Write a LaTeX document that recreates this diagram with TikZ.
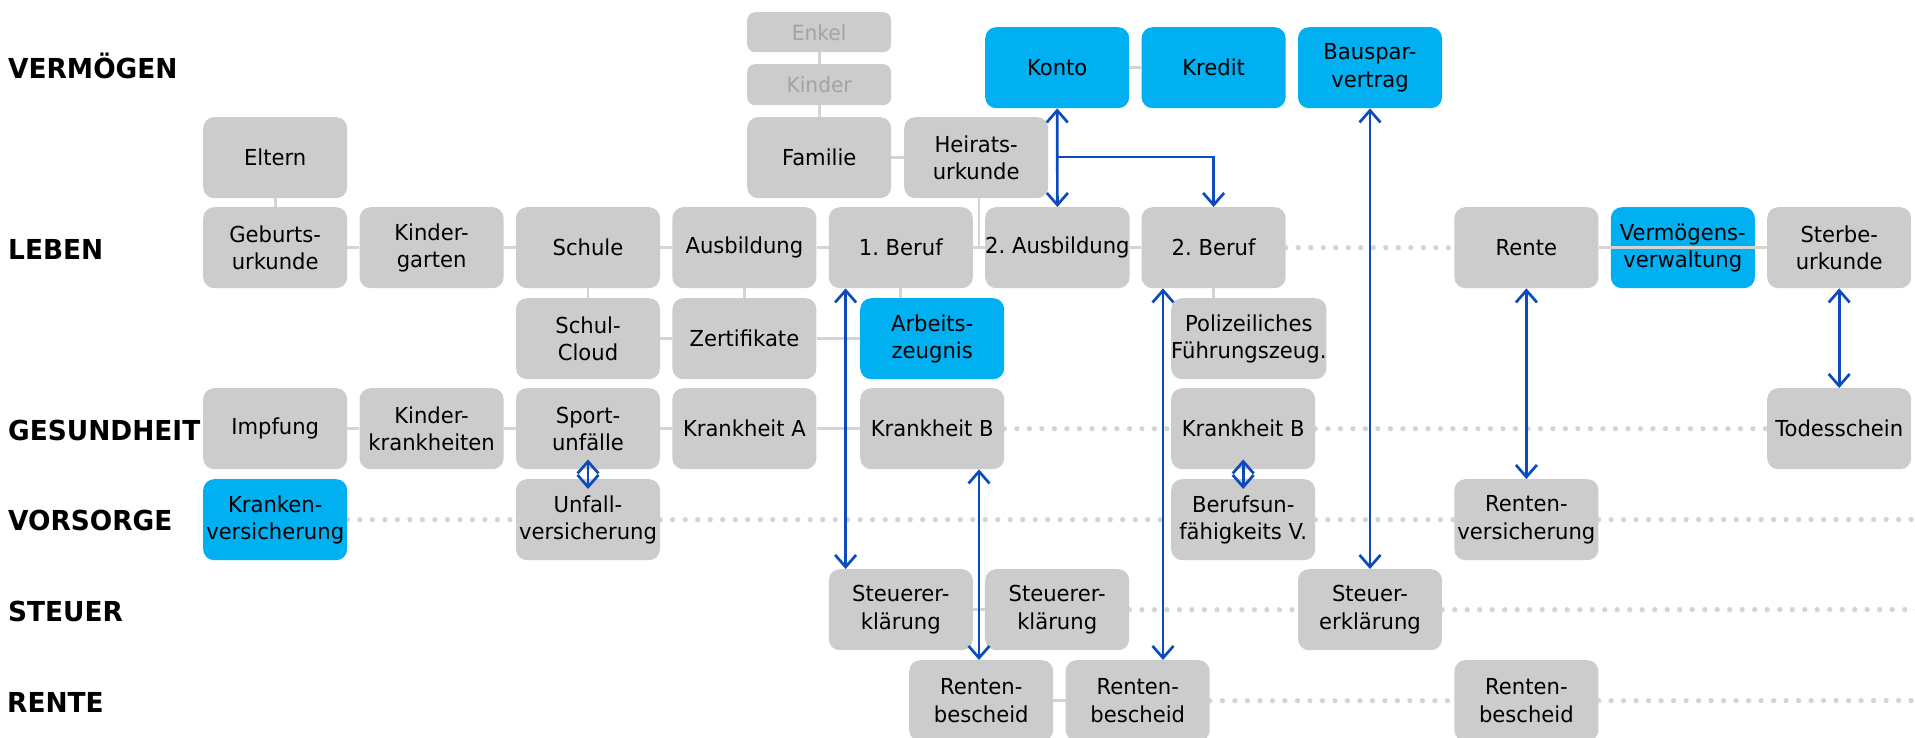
\documentclass[tikz,border=0pt]{standalone}
\usepackage{fontspec}
\setmainfont{DejaVu Sans}[FakeStretch=0.96]
\usetikzlibrary{arrows.meta}
\definecolor{boxgray}{HTML}{CCCCCC}
\definecolor{boxblue}{HTML}{00B0F0}
\definecolor{linegray}{HTML}{D4D4D4}
\definecolor{arrowblue}{HTML}{0B4BBE}
\definecolor{fadedtext}{HTML}{A3A3A3}
\pgfdeclarelayer{bg}
\pgfsetlayers{bg,main}
\frenchspacing
\begin{document}
\begin{tikzpicture}[x=1pt,y=-1pt,
 box/.style={fill=boxgray, rounded corners=11pt, minimum width=144pt, minimum height=81pt, inner sep=0pt, align=center, anchor=north west, font=\fontsize{22}{27.3}\selectfont},
 bluebox/.style={box, fill=boxblue},
 smallbox/.style={box, minimum height=40pt, rounded corners=8pt, text=fadedtext, font=\fontsize{21}{25}\selectfont},
 lane/.style={anchor=base west, inner sep=0pt, font=\fontsize{27.5}{31}\selectfont\bfseries},
 link/.style={draw=linegray, line width=2.7pt},
 dots/.style={draw=linegray, line width=5.3pt, line cap=round, dash pattern=on 0pt off 12.5pt},
 arr/.style={draw=arrowblue, line width=2.7pt, {Straight Barb[length=12pt,width=21pt]}-{Straight Barb[length=12pt,width=21pt]}},
 arrto/.style={draw=arrowblue, line width=2.7pt, -{Straight Barb[length=12pt,width=21pt]}},
]
\useasboundingbox (0,0) rectangle (1915,738);

% lane labels
\node[lane] (lv) at (8,78.5) {VERMÖGEN};
\node[lane] (ll) at (8,259) {LEBEN};
\node[lane] (lg) at (8,440) {GESUNDHEIT};
\node[lane] (lo) at (8,530) {VORSORGE};
\node[lane] (ls) at (8,621) {STEUER};
\node[lane] (lr) at (7,712) {RENTE};

% coordinates for free ends
\coordinate (hj) at (979,247.5);
\coordinate (kbr) at (1057,157);
\coordinate (a3x) at (1163,0);
\coordinate (vorend) at (1925,519.5);
\coordinate (stend) at (1925,609.5);
\coordinate (rbend) at (1925,700.5);

% ---------- boxes ----------
% top
\node[smallbox] (enkel) at (747,12) {Enkel};
\node[smallbox, minimum height=41pt] (kinder) at (747,64) {Kinder};
\node[box] (familie) at (747,117) {Familie};
\node[box] (heirat) at (904,117) {Heirats-\\urkunde};
\node[box] (eltern) at (203,117) {Eltern};
\node[bluebox] (konto) at (985,27) {Konto};
\node[bluebox] (kredit) at (1141.4,27) {Kredit};
\node[bluebox] (bauspar) at (1297.8,27) {Bauspar-\\vertrag};
% LEBEN
\node[box] (geb) at (203,207) {Geburts-\\urkunde};
\node[box] (kig) at (359.4,207) {Kinder-\\garten};
\node[box] (sch) at (515.8,207) {Schule};
\node[box] (aus) at (672.2,207) {Ausbildung};
\node[box] (b1) at (828.6,207) {1. Beruf};
\node[box] (aus2) at (985,207) {2. Ausbildung};
\node[box] (b2) at (1141.4,207) {2. Beruf};
\node[box] (rente) at (1454.2,207) {Rente};
\node[bluebox] (vv) at (1610.6,207) {Vermögens-\\verwaltung};
\node[box] (sterbe) at (1767,207) {Sterbe-\\urkunde};
% second LEBEN line
\node[box] (cloud) at (515.8,298) {Schul-\\Cloud};
\node[box] (zert) at (672.2,298) {Zertifikate};
\node[bluebox] (az) at (860,298) {Arbeits-\\zeugnis};
\node[box] (pol) at (1171,298) {Polizeiliches\\Führungszeug.};
% GESUNDHEIT
\node[box] (impf) at (203,388) {Impfung};
\node[box] (kk) at (359.4,388) {Kinder-\\krankheiten};
\node[box] (sport) at (515.8,388) {Sport-\\unfälle};
\node[box] (ka) at (672.2,388) {Krankheit A};
\node[box] (kb1) at (860,388) {Krankheit B};
\node[box] (kb2) at (1171,388) {Krankheit B};
\node[box] (tod) at (1767,388) {Todesschein};
% VORSORGE
\node[bluebox] (kv) at (203,479) {Kranken-\\versicherung};
\node[box] (uv) at (515.8,479) {Unfall-\\versicherung};
\node[box] (bu) at (1171,479) {Berufsun-\\fähigkeits V.};
\node[box] (rv) at (1454.2,479) {Renten-\\versicherung};
% STEUER
\node[box] (st1) at (828.6,569) {Steuerer-\\klärung};
\node[box] (st2) at (985,569) {Steuerer-\\klärung};
\node[box] (st3) at (1297.8,569) {Steuer-\\erklärung};
% RENTE
\node[box] (rb1) at (909,660) {Renten-\\bescheid};
\node[box] (rb2) at (1065.5,660) {Renten-\\bescheid};
\node[box] (rb3) at (1454.2,660) {Renten-\\bescheid};

% ---------- gray connectors (behind boxes) ----------
\begin{pgfonlayer}{bg}
\draw[link] (eltern) -- (geb);
\draw[link] (enkel) -- (kinder) -- (familie);
\draw[link] (familie) -- (heirat);
\draw[link] (konto) -- (kredit);
\draw[link] (geb) -- (kig) -- (sch) -- (aus) -- (b1) -- (aus2) -- (b2);
\draw[link] (heirat.south -| hj) -- (hj);
\draw[dots] (b2.east) -- (rente.west);
\draw[link] (sch) -- (cloud);
\draw[link] (aus) -- (zert);
\draw[link] (b1.south) -- (b1.south |- az.north);
\draw[link] (cloud) -- (zert) -- (az);
\draw[link] (b2.south) -- (b2.south |- pol.north);
\draw[link] (impf) -- (kk) -- (sport) -- (ka) -- (kb1);
\draw[dots] (kb1.east) -- (kb2.west);
\draw[dots] (kb2.east) -- (tod.west);
\draw[dots] (kv.east) -- (uv.west);
\draw[dots] (uv.east) -- (bu.west);
\draw[dots] (bu.east) -- (rv.west);
\draw[dots] (rv.east) -- (vorend);
\draw[link] (st1) -- (st2);
\draw[dots] (st2.east) -- (st3.west);
\draw[dots] (st3.east) -- (stend);
\draw[link] (rb1) -- (rb2);
\draw[dots] (rb2.east) -- (rb3.west);
\draw[dots] (rb3.east) -- (rbend);
\end{pgfonlayer}

% line across the blue box
\draw[link] (rente) -- (sterbe);

% ---------- blue arrows ----------
\draw[arr] (konto.south) -- (aus2.north);
\draw[arrto] (kbr) -| (b2.north);
\draw[arr] (bauspar.south) -- (st3.north);
\draw[arr] ([xshift=17pt]b1.south west) -- ([xshift=17pt]st1.north west);
\draw[arr] (kb1.south -| hj) -- (rb1.north -| hj);
\draw[arr] (b2.south -| a3x) -- (rb2.north -| a3x);
\draw[arr] (rente.south) -- (rv.north);
\draw[arr] (sterbe.south) -- (tod.north);
\draw[arr] ([yshift=10pt]sport.south) -- ([yshift=-10pt]uv.north);
\draw[arr] ([yshift=10pt]kb2.south) -- ([yshift=-10pt]bu.north);
\end{tikzpicture}
\end{document}
